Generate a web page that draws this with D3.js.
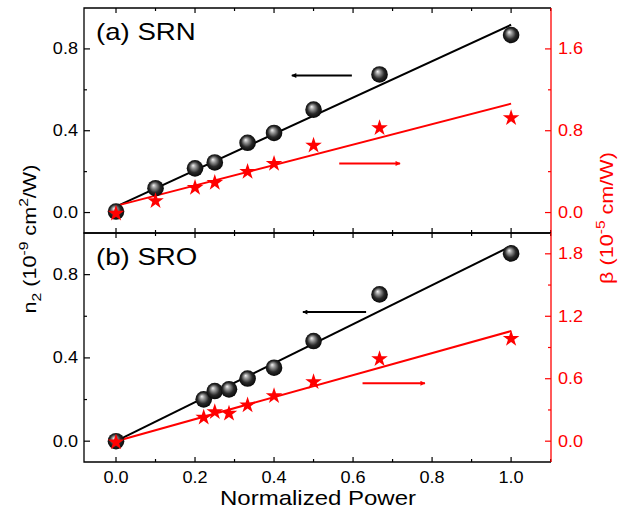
<!DOCTYPE html>
<html>
<head>
<meta charset="utf-8">
<script src="https://cdn.jsdelivr.net/npm/d3@7"></script>
<style>
  body { margin: 0; background: #fff; }
  text { font-family: "Liberation Sans", Arial, sans-serif; }
</style>
</head>
<body>
<div id="chart"></div>
<script>
// ---- data ----
// (a) SRN
const srnPower = [0, 0.1, 0.2, 0.25, 0.333, 0.4, 0.5, 0.667, 1.0];
const srnN2    = [0.005, 0.119, 0.216, 0.245, 0.341, 0.389, 0.503, 0.675, 0.868];
const srnBeta  = [0.0, 0.124, 0.253, 0.302, 0.409, 0.487, 0.666, 0.837, 0.934];
const srnN2Fit   = [[0, 0.029], [1, 0.918]];
const srnBetaFit = [[0, 0.065], [1, 1.065]];

// (b) SRO
const sroPower = [0, 0.222, 0.25, 0.286, 0.333, 0.4, 0.5, 0.667, 1.0];
const sroN2    = [0.0, 0.201, 0.241, 0.249, 0.301, 0.353, 0.481, 0.705, 0.902];
const sroBeta  = [0.0, 0.237, 0.29, 0.275, 0.355, 0.444, 0.578, 0.80, 0.995];
const sroN2Fit   = [[0, 0.0], [1, 0.937]];
const sroBetaFit = [[0, 0.0], [1, 1.058]];

// arrows: [x from, x to, y] ; black on left axis, red on right axis
const srnArrows = { n2: [0.597, 0.445, 0.67], beta: [0.565, 0.719, 0.48] };
const sroArrows = { n2: [0.633, 0.473, 0.62], beta: [0.624, 0.782, 0.556] };

const xTicks = [0.0, 0.2, 0.4, 0.6, 0.8, 1.0];
const leftTicks = [0.0, 0.4, 0.8];
const rightTicksA = [0.0, 0.8, 1.6];
const rightTicksB = [0.0, 0.6, 1.2, 1.8];

const panels = [
  { label: "(a) SRN", power: srnPower, n2: srnN2, beta: srnBeta,
    n2Fit: srnN2Fit, betaFit: srnBetaFit, arrows: srnArrows,
    rightTicks: rightTicksA, rightStep: 0.4, top: 8, bottom: 233, xLabels: false },
  { label: "(b) SRO", power: sroPower, n2: sroN2, beta: sroBeta,
    n2Fit: sroN2Fit, betaFit: sroBetaFit, arrows: sroArrows,
    rightTicks: rightTicksB, rightStep: 0.3, top: 233, bottom: 462, xLabels: true }
];

// ---- layout ----
const W = 621, H = 513;
const left = 84, right = 551;
const red = "#ff0000";
const stretch = 1.13;   // the original lettering is a bit wide

const svg = d3.select("#chart").append("svg")
  .attr("width", W).attr("height", H);

// text placed with a horizontal stretch
function label(sel, x, y, txt, size, anchor, fill, sx) {
  return sel.append("text")
    .attr("transform", `translate(${x},${y}) scale(${sx || stretch},1)`)
    .attr("text-anchor", anchor || "start")
    .attr("font-size", size)
    .attr("fill", fill || "#000")
    .text(txt);
}

// sphere gradient
const defs = svg.append("defs");
const grad = defs.append("radialGradient")
  .attr("id", "ball").attr("cx", "50%").attr("cy", "50%").attr("r", "55%")
  .attr("fx", "38%").attr("fy", "32%");
grad.append("stop").attr("offset", "0%").attr("stop-color", "#f4f4f4");
grad.append("stop").attr("offset", "25%").attr("stop-color", "#9a9a9a");
grad.append("stop").attr("offset", "60%").attr("stop-color", "#2a2a2a");
grad.append("stop").attr("offset", "100%").attr("stop-color", "#000");

["black", red].forEach((c, i) => {
  defs.append("marker")
    .attr("id", "arr" + i).attr("viewBox", "0 0 10 10")
    .attr("refX", 9).attr("refY", 5)
    .attr("markerWidth", 7).attr("markerHeight", 5)
    .attr("markerUnits", "userSpaceOnUse")
    .attr("orient", "auto")
    .append("path").attr("d", "M0,0L10,5L0,10z").attr("fill", c);
});

const xScale = d3.scaleLinear().domain([-0.081, 1.101]).range([left, right]);

function tickRange(lo, hi, step) {
  let out = [];
  for (let v = lo; v <= hi + 1e-9; v += step) out.push(+v.toFixed(4));
  return out;
}

panels.forEach(p => {
  const yL = d3.scaleLinear().domain([-0.1, 1.0]).range([p.bottom, p.top]);
  const yR = d3.scaleLinear().domain([-0.2, 2.0]).range([p.bottom, p.top]);
  const g = svg.append("g");

  // x ticks (inward) on top and bottom
  tickRange(0, 1.1, 0.1).forEach(v => {
    const major = xTicks.some(t => Math.abs(t - v) < 1e-6);
    const len = major ? 5 : 3;
    g.append("line").attr("x1", xScale(v)).attr("x2", xScale(v))
      .attr("y1", p.bottom).attr("y2", p.bottom - len)
      .attr("stroke", "#000").attr("stroke-width", 1.2);
    g.append("line").attr("x1", xScale(v)).attr("x2", xScale(v))
      .attr("y1", p.top).attr("y2", p.top + len)
      .attr("stroke", "#000").attr("stroke-width", 1.2);
  });

  // left ticks
  tickRange(0, 0.8, 0.2).forEach(v => {
    const major = leftTicks.some(t => Math.abs(t - v) < 1e-6);
    g.append("line").attr("x1", left).attr("x2", left + (major ? 6 : 3))
      .attr("y1", yL(v)).attr("y2", yL(v))
      .attr("stroke", "#000").attr("stroke-width", 1.2);
  });
  leftTicks.forEach(v => {
    label(g, 78, yL(v) + 5.5, d3.format(".1f")(v), 16, "end");
  });

  // right ticks
  tickRange(0, 1.9, p.rightStep).forEach(v => {
    const major = p.rightTicks.some(t => Math.abs(t - v) < 1e-6);
    g.append("line").attr("x1", right).attr("x2", right - (major ? 6 : 3))
      .attr("y1", yR(v)).attr("y2", yR(v))
      .attr("stroke", red).attr("stroke-width", 1.2);
  });
  p.rightTicks.forEach(v => {
    label(g, 558, yR(v) + 5.5, d3.format(".1f")(v), 16, "start", red);
  });

  // frame
  g.append("path")
    .attr("d", `M${right},${p.top}H${left}V${p.bottom}H${right}`)
    .attr("fill", "none").attr("stroke", "#000").attr("stroke-width", 1.3);
  g.append("line").attr("x1", right).attr("x2", right)
    .attr("y1", p.top).attr("y2", p.bottom)
    .attr("stroke", red).attr("stroke-width", 1.3);

  if (p.xLabels) {
    xTicks.forEach(v => {
      label(g, xScale(v), 483, d3.format(".1f")(v), 16, "middle");
    });
  }

  // fit lines
  const line = (ys) => d3.line().x(d => xScale(d[0])).y(d => ys(d[1]));
  g.append("path").attr("d", line(yL)(p.n2Fit))
    .attr("stroke", "#000").attr("stroke-width", 2).attr("fill", "none");
  g.append("path").attr("d", line(yR)(p.betaFit))
    .attr("stroke", red).attr("stroke-width", 2).attr("fill", "none");

  // arrows
  g.append("line")
    .attr("x1", xScale(p.arrows.n2[0])).attr("x2", xScale(p.arrows.n2[1]))
    .attr("y1", yL(p.arrows.n2[2])).attr("y2", yL(p.arrows.n2[2]))
    .attr("stroke", "#000").attr("stroke-width", 2)
    .attr("marker-end", "url(#arr0)");
  g.append("line")
    .attr("x1", xScale(p.arrows.beta[0])).attr("x2", xScale(p.arrows.beta[1]))
    .attr("y1", yR(p.arrows.beta[2])).attr("y2", yR(p.arrows.beta[2]))
    .attr("stroke", red).attr("stroke-width", 2)
    .attr("marker-end", "url(#arr1)");

  // spheres (n2)
  g.selectAll("circle.n2").data(p.power).enter().append("circle")
    .attr("cx", d => xScale(d))
    .attr("cy", (d, i) => yL(p.n2[i]))
    .attr("r", 8.3)
    .attr("fill", "url(#ball)");

  // stars (beta)
  const star = d3.symbol().type(d3.symbolStar).size(85);
  g.selectAll("path.beta").data(p.power).enter().append("path")
    .attr("d", star)
    .attr("transform", (d, i) => `translate(${xScale(d)},${yR(p.beta[i]) + 1})`)
    .attr("fill", red);

  // panel label
  label(g, 96, p.top + 32, p.label, 23, "start", "#000", 1.2);
});

// axis titles
label(svg, 318, 505, "Normalized Power", 20, "middle", "#000", 1.2);

const yt = svg.append("text")
  .attr("transform", "translate(36,239) rotate(-90) scale(1.2,1)")
  .attr("text-anchor", "middle").attr("font-size", 18);
yt.append("tspan").text("n");
yt.append("tspan").attr("font-size", 13).attr("dy", 5).text("2");
yt.append("tspan").attr("dy", -5).text(" (10");
yt.append("tspan").attr("font-size", 13).attr("dy", -8).text("-9");
yt.append("tspan").attr("dy", 8).text(" cm");
yt.append("tspan").attr("font-size", 13).attr("dy", -8).text("2");
yt.append("tspan").attr("dy", 8).text("/W)");

const rt = svg.append("text")
  .attr("transform", "translate(613,218) rotate(-90) scale(1.2,1)")
  .attr("text-anchor", "middle").attr("font-size", 18).attr("fill", red);
rt.append("tspan").text("β (10");
rt.append("tspan").attr("font-size", 13).attr("dy", -8).text("-5");
rt.append("tspan").attr("dy", 8).text(" cm/W)");
</script>
</body>
</html>
